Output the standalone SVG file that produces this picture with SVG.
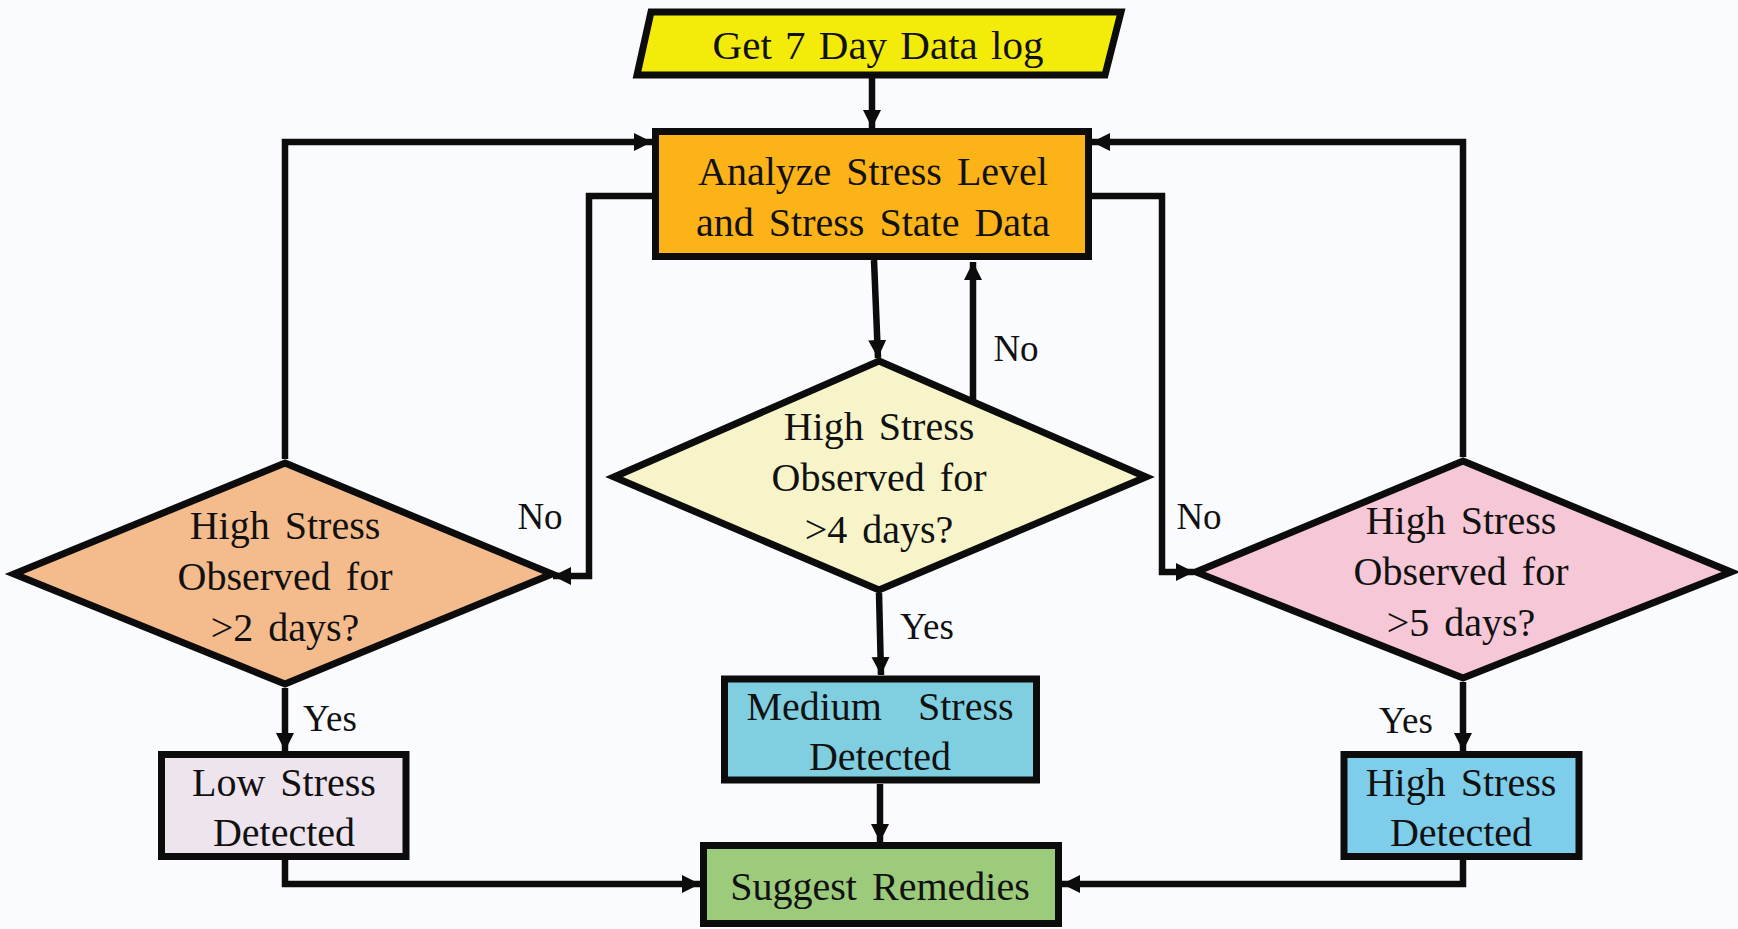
<svg xmlns="http://www.w3.org/2000/svg" width="1738" height="929" viewBox="0 0 1738 929">
  <style>
    .shape { stroke: #0c0c0c; stroke-width: 7; stroke-linejoin: miter; }
    .wire { fill: none; stroke: #0c0c0c; stroke-width: 6.5; }
    text { font-family: "Liberation Serif", "Times New Roman", serif; fill: #111111; text-anchor: middle; }
    .t { font-size: 40px; word-spacing: 5px; }
    .lbl { font-size: 37px; }
  </style>
  <defs>
    <marker id="arrow" markerUnits="userSpaceOnUse" markerWidth="20" markerHeight="20" refX="18" refY="9" orient="auto">
      <path d="M0,0 L18,9 L0,18 Z" fill="#0c0c0c"/>
    </marker>
  </defs>

  <rect width="1738" height="929" fill="#fafbfe"/>

  <!-- nodes -->
  <g id="get-data">
    <polygon class="shape" points="651,12 1121,12 1105,75 637,75" fill="#f3eb0a"/>
    <text class="t" x="878" y="59" style="font-size:41px; word-spacing:3px">Get 7 Day Data log</text>
  </g>

  <g id="analyze">
    <rect class="shape" x="655.5" y="131.5" width="433" height="125" fill="#fbb318"/>
    <text class="t" x="873" y="185">Analyze Stress Level</text>
    <text class="t" x="873" y="236">and Stress State Data</text>
  </g>

  <g id="check-2-days">
    <polygon class="shape" points="285,463 552,574 285,684 14,574" fill="#f4bb8d"/>
    <text class="t" x="285" y="539">High Stress</text>
    <text class="t" x="285" y="590">Observed  for</text>
    <text class="t" x="285" y="641">&gt;2 days?</text>
  </g>

  <g id="check-4-days">
    <polygon class="shape" points="879,361 1146,477 879,590 614,477" fill="#f7f4c9"/>
    <text class="t" x="879" y="440">High Stress</text>
    <text class="t" x="879" y="491">Observed  for</text>
    <text class="t" x="879" y="543">&gt;4 days?</text>
  </g>

  <g id="check-5-days">
    <polygon class="shape" points="1463,461 1731,572 1463,678 1196,572" fill="#f6c7d6"/>
    <text class="t" x="1461" y="534">High Stress</text>
    <text class="t" x="1461" y="585">Observed  for</text>
    <text class="t" x="1461" y="636">&gt;5 days?</text>
  </g>

  <g id="low-stress">
    <rect class="shape" x="161.5" y="754.5" width="244.5" height="102" fill="#eee4ee"/>
    <text class="t" x="284" y="796">Low Stress</text>
    <text class="t" x="284" y="846">Detected</text>
  </g>

  <g id="medium-stress">
    <rect class="shape" x="724.5" y="679" width="312" height="101" fill="#7fcfe0"/>
    <text class="t" x="880" y="720" style="word-spacing:26px">Medium Stress</text>
    <text class="t" x="880" y="770">Detected</text>
  </g>

  <g id="high-stress">
    <rect class="shape" x="1344" y="754.5" width="235" height="102" fill="#7dcdeb"/>
    <text class="t" x="1461" y="796">High Stress</text>
    <text class="t" x="1461" y="846">Detected</text>
  </g>

  <g id="suggest-remedies">
    <rect class="shape" x="703.5" y="845.5" width="355" height="78" fill="#9dcb7c"/>
    <text class="t" x="880" y="900">Suggest Remedies</text>
  </g>

  <!-- connectors -->
  <g id="connectors">
    <path class="wire" d="M872,78 L872,128" marker-end="url(#arrow)"/>
    <path class="wire" d="M874,260 L878,358" marker-end="url(#arrow)"/>
    <path class="wire" d="M973,401 L973,262" marker-end="url(#arrow)"/>
    <path class="wire" d="M879,593 L881,675" marker-end="url(#arrow)"/>
    <path class="wire" d="M880,784 L880,842" marker-end="url(#arrow)"/>
    <path class="wire" d="M285,459 L285,142 L652,142" marker-end="url(#arrow)"/>
    <path class="wire" d="M652,196 L589,196 L589,576 L553,576" marker-end="url(#arrow)"/>
    <path class="wire" d="M285,688 L285,751" marker-end="url(#arrow)"/>
    <path class="wire" d="M285,860 L285,884 L700,884" marker-end="url(#arrow)"/>
    <path class="wire" d="M1463,457 L1463,142 L1092,142" marker-end="url(#arrow)"/>
    <path class="wire" d="M1092,196 L1162,196 L1162,572 L1194,572" marker-end="url(#arrow)"/>
    <path class="wire" d="M1463,682 L1463,751" marker-end="url(#arrow)"/>
    <path class="wire" d="M1463,860 L1463,884 L1062,884" marker-end="url(#arrow)"/>
  </g>

  <!-- branch labels -->
  <g id="labels">
    <text class="lbl" x="540" y="529">No</text>
    <text class="lbl" x="1016" y="361">No</text>
    <text class="lbl" x="1199" y="529">No</text>
    <text class="lbl" x="330" y="731">Yes</text>
    <text class="lbl" x="927" y="639">Yes</text>
    <text class="lbl" x="1406" y="733">Yes</text>
  </g>
</svg>
